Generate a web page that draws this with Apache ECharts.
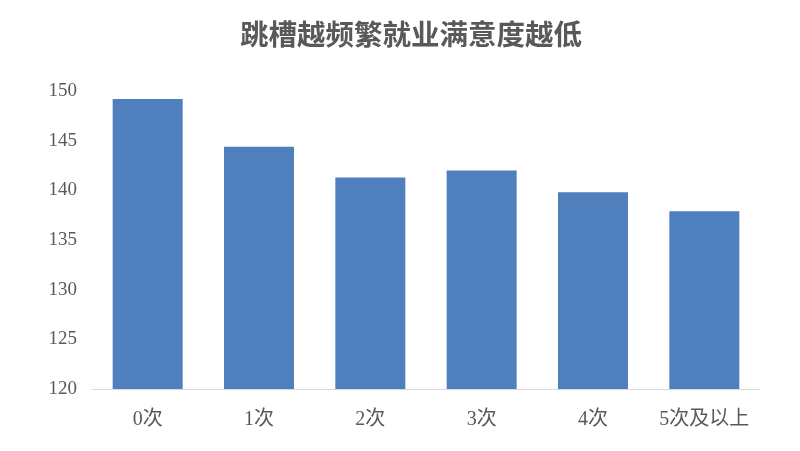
<!DOCTYPE html>
<html>
<head>
<meta charset="utf-8">
<script src="https://cdn.jsdelivr.net/npm/echarts@6/dist/echarts.min.js"></script>
<style>html,body{margin:0;padding:0;background:#fff;}#c{width:800px;height:451px;}</style>
</head>
<body>
<div id="c"></div>
<script>
const title = '跳槽越频繁就业满意度越低';
const categories = ['0次', '1次', '2次', '3次', '4次', '5次及以上'];
const values = [149.2, 144.4, 141.3, 142.0, 139.8, 137.9];
const yTicks = [120, 125, 130, 135, 140, 145, 150];

const chart = echarts.init(document.getElementById('c'));
chart.setOption({
  animation: false,
  backgroundColor: '#ffffff',
  title: {
    text: title,
    left: 240,
    top: 20,
    padding: 0,
    textStyle: {
      fontFamily: '"Noto Sans CJK SC", sans-serif',
      fontSize: 28.5,
      fontWeight: 'bold',
      color: '#595959'
    }
  },
  grid: { left: 92, right: 40, top: 91, bottom: 62 },
  xAxis: {
    type: 'category',
    data: categories,
    axisLine: { lineStyle: { color: '#d9d9d9', width: 1 } },
    axisTick: { show: false },
    axisLabel: {
      interval: 0,
      margin: 21,
      fontFamily: '"Liberation Serif", "Noto Sans CJK SC", serif',
      fontSize: 20,
      color: '#595959'
    }
  },
  yAxis: {
    type: 'value',
    min: yTicks[0],
    max: yTicks[yTicks.length - 1],
    interval: 5,
    axisLine: { show: false },
    axisTick: { show: false },
    splitLine: { show: false },
    axisLabel: {
      margin: 15,
      fontFamily: '"Liberation Serif", serif',
      fontSize: 19,
      color: '#595959'
    }
  },
  series: [{
    type: 'bar',
    data: values,
    barWidth: 70,
    itemStyle: { color: '#4f7fbc' }
  }]
});
</script>
</body>
</html>
